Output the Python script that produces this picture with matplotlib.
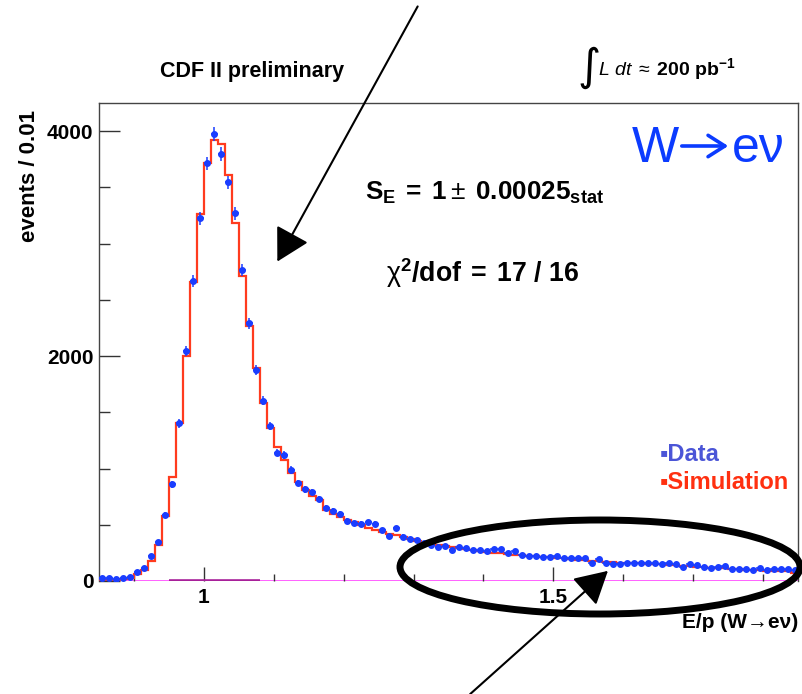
import matplotlib
matplotlib.use("Agg")
import matplotlib.pyplot as plt
import numpy as np
from matplotlib.patches import Ellipse
from matplotlib.ticker import MultipleLocator

plt.rcParams['font.family'] = ['Liberation Sans', 'DejaVu Sans']
plt.rcParams['mathtext.fontset'] = 'custom'
plt.rcParams['mathtext.rm'] = 'Liberation Sans'
plt.rcParams['mathtext.it'] = 'Liberation Sans:italic'
plt.rcParams['mathtext.bf'] = 'Liberation Sans:bold'
plt.rcParams['mathtext.sf'] = 'Liberation Sans'

# E/p binning: 0.01 wide bins from 0.85 to 1.85
bin_lo, bin_hi, bin_w = 0.85, 1.85, 0.01

data_counts = [
    24, 24, 20, 30, 40, 77, 118, 225, 344, 587,
    860, 1402, 2047, 2667, 3224, 3713, 3973, 3796, 3544, 3268,
    2764, 2291, 1876, 1603, 1378, 1141, 1120, 987, 870, 815,
    790, 730, 646, 625, 596, 536, 513, 507, 522, 507,
    453, 400, 468, 394, 371, 364, 340, 320, 300, 311,
    276, 300, 291, 276, 276, 267, 282, 282, 246, 267,
    231, 222, 222, 216, 210, 222, 202, 202, 202, 207,
    157, 193, 157, 148, 148, 163, 163, 157, 163, 157,
    154, 157, 154, 127, 154, 145, 127, 118, 121, 133,
    111, 111, 105, 96, 118, 101, 111, 111, 111, 96,
]

sim_counts = [
    6, 8, 10, 14, 25, 62, 102, 181, 320, 575,
    927, 1402, 2003, 2661, 3262, 3713, 3920, 3882, 3609, 3185,
    2714, 2269, 1890, 1580, 1363, 1188, 1076, 963, 883, 809,
    758, 720, 631, 600, 570, 545, 525, 495, 475, 455,
    436, 418, 405, 391, 373, 356, 340, 329, 318, 308,
    298, 290, 282, 274, 266, 258, 252, 246, 240, 234,
    229, 224, 219, 214, 210, 206, 202, 198, 190, 184,
    178, 174, 170, 166, 163, 160, 158, 156, 154, 151,
    148, 145, 140, 136, 132, 128, 124, 120, 116, 112,
    108, 105, 102, 99, 96, 93, 90, 88, 86, 72,
]

fit_range = [0.95, 1.08]

x_ticks = [1.0, 1.5]
x_tick_labels = ['1', '1.5']
y_ticks = [0, 2000, 4000]
y_tick_labels = ['0', '2000', '4000']

edges = np.round(np.linspace(bin_lo, bin_hi, len(data_counts) + 1), 4)
centers = 0.5 * (edges[:-1] + edges[1:])
data = np.asarray(data_counts, float)

W, H = 803, 694
fig = plt.figure(figsize=(W / 100, H / 100), dpi=100)
ax = fig.add_axes([99 / W, 1 - 581 / H, 699 / W, 478 / H])

ax.axhline(0, color='#ff55ff', lw=1.3, zorder=1)
ax.plot(fit_range, [0, 0], color='#a8209a', lw=2.6, solid_capstyle='butt', zorder=2)
ax.stairs(sim_counts, edges, baseline=None, color='#ff3b1e', lw=1.6, zorder=3)
ax.errorbar(centers, data, yerr=np.sqrt(data), xerr=bin_w / 2, fmt='o', ms=4,
            color='#1a3dff', ecolor='#1a3dff', elinewidth=1.1, capsize=0, zorder=4)

ax.set_xlim(bin_lo, bin_hi)
ax.set_ylim(0, 4250)
ax.set_xticks(x_ticks, labels=x_tick_labels, fontweight='bold', fontsize=15)
ax.set_yticks(y_ticks, labels=y_tick_labels, fontweight='bold', fontsize=15)
ax.xaxis.set_minor_locator(MultipleLocator(0.1))
ax.yaxis.set_minor_locator(MultipleLocator(500))
ax.tick_params(which='both', direction='in', color='#333333', width=1)
ax.tick_params(axis='x', which='major', length=10, pad=5)
ax.tick_params(axis='x', which='minor', length=5)
ax.tick_params(axis='y', which='major', length=15, pad=4)
ax.tick_params(axis='y', which='minor', length=8)
for side in ['left', 'top', 'right']:
    ax.spines[side].set_color('#444444')
    ax.spines[side].set_linewidth(1)
ax.spines['bottom'].set_visible(False)

# pixel-space overlay for labels and annotations
ov = fig.add_axes([0, 0, 1, 1])
ov.set_xlim(0, W)
ov.set_ylim(H, 0)
ov.axis('off')

ov.text(30, 176, 'events / 0.01', rotation=90, ha='center', va='center',
        fontsize=16, fontweight='bold')
ov.text(798, 622, 'E/p (W→eν)', ha='right', va='center', fontsize=15, fontweight='bold')
ov.text(160, 77, 'CDF II preliminary', ha='left', va='baseline', fontsize=15.5,
        fontweight='bold')
ov.text(577, 80, '∫', ha='left', va='baseline', fontsize=32, family='DejaVu Sans')
ov.text(598, 75, r'$\mathit{L\ dt}\;\approx\;\mathbf{200\ pb^{-1}}$', ha='left',
        va='baseline', fontsize=14)

# W -> e nu tag, drawn in three pieces so the arrow gets its full length
blue = '#0b3bff'
ov.text(632, 162, 'W', ha='left', va='baseline', fontsize=36, color=blue)
ov.annotate('', xy=(731, 146), xytext=(679, 146),
            arrowprops=dict(arrowstyle='->,head_length=0.55,head_width=0.35',
                            mutation_scale=22, lw=2.6, color=blue))
ov.text(732, 162, 'eν', ha='left', va='baseline', fontsize=36, color=blue)

ov.text(365, 200, r'$\mathbf{S_{E}\;=\;1}\pm\mathbf{\;0.00025_{stat}}$', ha='left',
        va='baseline', fontsize=18.8)
ov.text(386, 282, r'$\mathrm{\chi}^{\mathbf{2}}\mathbf{/dof\;=\;17\ /\ 16}$', ha='left',
        va='baseline', fontsize=19.2)
ov.text(660, 461, '▪Data', ha='left', va='baseline', fontsize=17, fontweight='bold',
        color='#4b55d7')
ov.text(660, 489, '▪Simulation', ha='left', va='baseline', fontsize=17,
        fontweight='bold', color='#ff3010')

ov.annotate('', xy=(276, 264), xytext=(419, 4),
            arrowprops=dict(arrowstyle='-|>,head_length=0.45,head_width=0.25',
                            mutation_scale=45, lw=1.5, color='black'))
ov.annotate('', xy=(610, 569), xytext=(468, 696),
            arrowprops=dict(arrowstyle='-|>,head_length=0.45,head_width=0.25',
                            mutation_scale=45, lw=1.5, color='black'))
ov.add_patch(Ellipse((600, 567), 400, 94, fill=False, lw=5, ec='black'))

fig.savefig('out.png', dpi=100, facecolor='white')
